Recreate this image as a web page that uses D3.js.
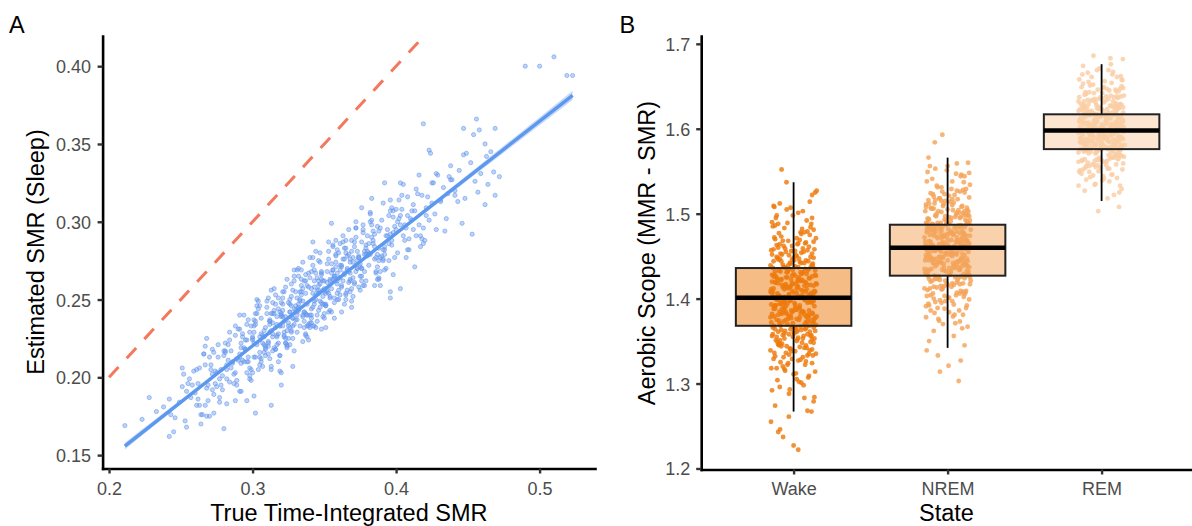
<!DOCTYPE html>
<html><head><meta charset="utf-8">
<script src="https://cdn.jsdelivr.net/npm/d3@7"></script>
<style>
body{margin:0;background:#fff;}
svg{display:block;font-family:Arial,"Liberation Sans",Helvetica,sans-serif;}
</style></head><body>
<svg id="chart" width="1192" height="526"></svg>
<script>
// ================= DATA =================
// Panel A: [true time-integrated SMR, estimated SMR (sleep)]
const smrPoints = [
[0.211,0.169],[0.223,0.173],[0.228,0.187],[0.242,0.162],[0.242,0.186],[0.245,0.165],[0.243,0.176],[0.246,0.174],[0.253,0.172],[0.254,0.168],[0.254,0.191],[0.260,0.190],[0.252,0.202],[0.259,0.204],[0.261,0.205],[0.251,0.194],[0.258,0.195],[0.262,0.196],[0.265,0.176],[0.267,0.182],[0.264,0.170],[0.268,0.175],[0.270,0.175],[0.273,0.177],[0.280,0.167],[0.277,0.184],[0.282,0.183],[0.263,0.182],[0.269,0.185],[0.272,0.192],[0.275,0.194],[0.268,0.225],[0.267,0.220],[0.266,0.215],[0.270,0.213],[0.296,0.185],[0.302,0.177],[0.313,0.182],[0.288,0.185],[0.291,0.191],[0.301,0.188],[0.320,0.195],[0.313,0.205],[0.319,0.204],[0.320,0.203],[0.328,0.207],[0.314,0.217],[0.263,0.206],[0.268,0.193],[0.256,0.199],[0.249,0.184],[0.233,0.178],[0.238,0.181],
[0.274,0.196],[0.271,0.208],[0.279,0.201],[0.276,0.213],[0.273,0.189],[0.277,0.199],[0.272,0.218],[0.278,0.205],[0.275,0.203],
[0.286,0.209],[0.281,0.217],[0.288,0.203],[0.284,0.224],[0.282,0.199],[0.289,0.212],[0.283,0.221],[0.287,0.196],[0.280,0.214],[0.285,0.206],[0.288,0.227],[0.282,0.208],[0.284,0.229],[0.289,0.198],[0.281,0.216],
[0.297,0.213],[0.292,0.222],[0.299,0.205],[0.291,0.231],[0.295,0.218],[0.298,0.201],[0.293,0.226],[0.290,0.211],[0.296,0.234],[0.294,0.219],[0.299,0.198],[0.292,0.209],[0.297,0.237],[0.295,0.224],[0.291,0.215],[0.298,0.206],[0.293,0.228],[0.294,0.240],[0.296,0.210],
[0.303,0.221],[0.308,0.230],[0.301,0.213],[0.306,0.238],[0.300,0.225],[0.305,0.208],[0.302,0.234],[0.309,0.218],[0.304,0.244],[0.307,0.227],[0.300,0.203],[0.305,0.216],[0.303,0.241],[0.309,0.232],[0.301,0.222],[0.306,0.212],[0.304,0.249],[0.308,0.226],[0.302,0.236],[0.307,0.207],[0.309,0.219],[0.301,0.229],[0.305,0.246],
[0.318,0.228],[0.312,0.237],[0.315,0.219],[0.310,0.245],[0.316,0.232],[0.319,0.214],[0.313,0.241],[0.317,0.226],[0.311,0.251],[0.314,0.235],[0.318,0.210],[0.311,0.223],[0.314,0.248],[0.317,0.239],[0.312,0.229],[0.316,0.218],[0.313,0.256],[0.319,0.233],[0.315,0.243],[0.311,0.215],[0.317,0.227],[0.312,0.236],[0.316,0.253],[0.314,0.241],[0.318,0.222],
[0.325,0.235],[0.329,0.244],[0.322,0.226],[0.327,0.252],[0.321,0.239],[0.326,0.221],[0.320,0.248],[0.328,0.233],[0.323,0.258],[0.326,0.242],[0.329,0.217],[0.324,0.230],[0.321,0.255],[0.327,0.246],[0.322,0.236],[0.328,0.225],[0.324,0.263],[0.320,0.240],[0.326,0.250],[0.323,0.222],[0.329,0.234],[0.321,0.243],[0.327,0.260],[0.325,0.248],[0.322,0.229],[0.328,0.238],[0.324,0.219],
[0.336,0.242],[0.331,0.251],[0.339,0.233],[0.334,0.259],[0.330,0.246],[0.337,0.228],[0.333,0.255],[0.338,0.240],[0.332,0.265],[0.335,0.249],[0.339,0.224],[0.331,0.237],[0.337,0.262],[0.334,0.253],[0.330,0.243],[0.336,0.232],[0.332,0.270],[0.338,0.247],[0.335,0.257],[0.331,0.229],[0.337,0.241],[0.333,0.250],[0.339,0.267],[0.334,0.255],[0.336,0.236],[0.332,0.245],[0.338,0.226],[0.335,0.274],
[0.347,0.249],[0.343,0.258],[0.340,0.240],[0.348,0.266],[0.344,0.253],[0.341,0.235],[0.346,0.262],[0.349,0.247],[0.342,0.272],[0.345,0.256],[0.348,0.231],[0.341,0.244],[0.343,0.269],[0.347,0.260],[0.344,0.250],[0.349,0.239],[0.342,0.277],[0.346,0.254],[0.340,0.264],[0.345,0.236],[0.348,0.248],[0.341,0.257],[0.347,0.274],[0.343,0.262],[0.346,0.243],[0.349,0.252],[0.342,0.233],[0.344,0.281],[0.342,0.287],
[0.352,0.256],[0.357,0.265],[0.350,0.247],[0.355,0.273],[0.359,0.260],[0.353,0.242],[0.356,0.269],[0.351,0.254],[0.358,0.279],[0.354,0.263],[0.350,0.238],[0.357,0.251],[0.353,0.276],[0.359,0.267],[0.355,0.257],[0.351,0.246],[0.356,0.284],[0.352,0.261],[0.358,0.271],[0.354,0.243],[0.350,0.255],[0.357,0.264],[0.353,0.281],[0.356,0.269],[0.359,0.250],[0.351,0.232],[0.358,0.288],[0.355,0.299],
[0.368,0.263],[0.362,0.272],[0.365,0.254],[0.360,0.280],[0.364,0.267],[0.369,0.249],[0.363,0.276],[0.367,0.261],[0.361,0.286],[0.366,0.270],[0.369,0.245],[0.362,0.258],[0.364,0.283],[0.368,0.274],[0.361,0.264],[0.365,0.253],[0.363,0.291],[0.367,0.268],[0.366,0.278],[0.360,0.250],[0.368,0.262],[0.362,0.271],[0.365,0.288],[0.364,0.276],[0.369,0.257],
[0.373,0.270],[0.378,0.279],[0.371,0.261],[0.376,0.287],[0.370,0.274],[0.375,0.256],[0.379,0.283],[0.372,0.268],[0.377,0.293],[0.374,0.277],[0.370,0.252],[0.376,0.265],[0.372,0.290],[0.378,0.281],[0.375,0.271],[0.371,0.260],[0.377,0.298],[0.373,0.275],[0.379,0.285],[0.374,0.258],[0.376,0.270],[0.376,0.309],[0.372,0.296],
[0.386,0.277],[0.381,0.286],[0.389,0.268],[0.384,0.294],[0.380,0.281],[0.387,0.263],[0.383,0.290],[0.388,0.275],[0.382,0.300],[0.385,0.284],[0.389,0.259],[0.381,0.272],[0.387,0.297],[0.384,0.288],[0.380,0.278],[0.386,0.267],[0.382,0.305],[0.388,0.283],[0.385,0.292],[0.383,0.315],[0.388,0.263],
[0.392,0.284],[0.398,0.293],[0.395,0.275],[0.390,0.301],[0.397,0.288],[0.393,0.270],[0.399,0.297],[0.391,0.282],[0.396,0.307],[0.394,0.291],[0.398,0.266],[0.392,0.279],[0.395,0.304],[0.392,0.325],[0.397,0.285],[0.396,0.255],[0.391,0.312],[0.396,0.251],
[0.405,0.291],[0.401,0.300],[0.408,0.282],[0.404,0.308],[0.400,0.295],[0.407,0.277],[0.403,0.304],[0.409,0.289],[0.402,0.314],[0.406,0.298],[0.403,0.325],[0.403,0.257],[0.408,0.316],
[0.416,0.298],[0.411,0.307],[0.418,0.289],[0.413,0.271],[0.410,0.302],[0.417,0.284],[0.412,0.311],[0.419,0.296],[0.414,0.321],[0.415,0.318],[0.419,0.363],[0.420,0.288],
[0.423,0.346],[0.424,0.344],[0.427,0.305],[0.422,0.316],[0.428,0.295],[0.425,0.325],[0.421,0.309],[0.429,0.330],
[0.435,0.302],[0.431,0.313],[0.433,0.322],[0.438,0.336],[0.436,0.318],[0.439,0.327],
[0.446,0.299],[0.447,0.360],[0.449,0.344],[0.441,0.320],[0.444,0.333],[0.448,0.315],
[0.453,0.292],[0.456,0.366],[0.458,0.359],[0.452,0.338],[0.455,0.326],[0.459,0.331],
[0.462,0.350],[0.462,0.311],[0.466,0.345],[0.469,0.360],[0.468,0.332],[0.469,0.317],[0.464,0.324],
[0.472,0.329],[0.490,0.400],[0.500,0.400],[0.510,0.406],[0.519,0.394],[0.523,0.394],
[0.255,0.196],[0.257,0.187],[0.251,0.206],
[0.262,0.186],[0.266,0.215],[0.269,0.195],[0.264,0.176],[0.267,0.208],[0.261,0.182],
[0.272,0.202],[0.276,0.221],[0.279,0.192],[0.271,0.205],[0.274,0.204],[0.278,0.195],[0.273,0.216],[0.277,0.187],
[0.283,0.211],[0.287,0.202],[0.281,0.222],[0.289,0.195],[0.285,0.217],[0.282,0.205],[0.288,0.233],[0.284,0.197],[0.286,0.210],[0.280,0.217],
[0.294,0.210],[0.291,0.240],[0.298,0.199],[0.292,0.219],[0.296,0.203],[0.299,0.233],[0.293,0.211],[0.290,0.231],[0.297,0.210],[0.295,0.218],[0.292,0.191],[0.298,0.229],[0.291,0.213],[0.296,0.224],
[0.305,0.213],[0.301,0.237],[0.308,0.221],[0.303,0.246],[0.306,0.210],[0.300,0.224],[0.309,0.220],[0.302,0.241],[0.307,0.222],[0.304,0.205],[0.301,0.233],[0.308,0.216],[0.305,0.226],[0.303,0.250],[0.309,0.214],[0.300,0.226],[0.306,0.228],[0.302,0.213],
[0.316,0.247],[0.312,0.212],[0.319,0.242],[0.314,0.228],[0.310,0.249],[0.317,0.221],[0.313,0.230],[0.318,0.244],[0.311,0.222],[0.315,0.257],[0.319,0.214],[0.312,0.234],[0.316,0.218],[0.310,0.241],[0.314,0.226],[0.318,0.251],[0.311,0.220],[0.317,0.234],[0.313,0.207],[0.315,0.241],[0.319,0.233],[0.312,0.236],
[0.327,0.229],[0.321,0.251],[0.325,0.233],[0.329,0.265],[0.323,0.222],[0.320,0.239],[0.326,0.232],[0.322,0.255],[0.328,0.238],[0.324,0.220],[0.321,0.247],[0.327,0.230],[0.323,0.239],[0.329,0.269],[0.325,0.225],[0.320,0.241],[0.326,0.242],[0.322,0.227],[0.328,0.256],[0.324,0.221],[0.326,0.247],[0.321,0.233],[0.329,0.262],[0.323,0.225],
[0.332,0.243],[0.338,0.259],[0.335,0.240],[0.331,0.269],[0.337,0.227],[0.333,0.249],[0.339,0.234],[0.330,0.255],[0.336,0.242],[0.334,0.263],[0.338,0.240],[0.332,0.244],[0.335,0.223],[0.339,0.258],[0.331,0.242],[0.337,0.254],[0.333,0.233],[0.336,0.262],[0.330,0.237],[0.334,0.269],[0.338,0.233],[0.332,0.247],[0.335,0.239],[0.337,0.266],[0.331,0.240],
[0.343,0.233],[0.348,0.267],[0.341,0.240],[0.346,0.256],[0.340,0.277],[0.345,0.240],[0.349,0.262],[0.342,0.254],[0.347,0.245],[0.344,0.267],[0.340,0.232],[0.348,0.263],[0.343,0.249],[0.346,0.275],[0.341,0.238],[0.349,0.256],[0.345,0.264],[0.342,0.245],[0.347,0.280],[0.344,0.232],[0.346,0.259],[0.340,0.235],[0.348,0.268],[0.343,0.247],[0.341,0.268],
[0.354,0.251],[0.350,0.257],[0.357,0.238],[0.352,0.268],[0.359,0.262],[0.355,0.267],[0.351,0.246],[0.358,0.278],[0.353,0.254],[0.356,0.285],[0.350,0.241],[0.357,0.265],[0.354,0.252],[0.359,0.282],[0.352,0.255],[0.355,0.242],[0.358,0.274],[0.351,0.247],[0.356,0.263],[0.353,0.287],[0.357,0.248],[0.350,0.262],[0.354,0.262],[0.359,0.254],[0.352,0.273],
[0.365,0.250],[0.361,0.272],[0.368,0.267],[0.363,0.287],[0.366,0.256],[0.360,0.264],[0.369,0.281],[0.362,0.259],[0.367,0.295],[0.364,0.247],[0.361,0.269],[0.368,0.255],[0.365,0.280],[0.363,0.262],[0.369,0.288],[0.360,0.256],[0.366,0.269],[0.362,0.242],[0.367,0.279],[0.364,0.266],[0.368,0.276],[0.361,0.253],[0.365,0.283],
[0.376,0.270],[0.372,0.296],[0.379,0.262],[0.374,0.278],[0.370,0.264],[0.377,0.295],[0.373,0.270],[0.378,0.259],[0.371,0.284],[0.375,0.265],[0.379,0.279],[0.372,0.300],[0.376,0.262],[0.370,0.277],[0.374,0.277],[0.378,0.268],[0.371,0.287],[0.377,0.259],[0.373,0.281],[0.375,0.273],
[0.383,0.301],[0.387,0.271],[0.381,0.279],[0.389,0.296],[0.385,0.276],[0.382,0.306],[0.388,0.264],[0.384,0.286],[0.386,0.268],[0.380,0.291],[0.387,0.279],[0.383,0.298],[0.389,0.277],[0.381,0.280],[0.385,0.259],[0.388,0.294],[0.382,0.279],
[0.394,0.295],[0.391,0.275],[0.398,0.307],[0.392,0.282],[0.396,0.314],[0.399,0.277],[0.393,0.291],[0.390,0.278],[0.397,0.309],[0.395,0.286],[0.392,0.269],[0.398,0.303],[0.391,0.276],[0.396,0.292],
[0.405,0.324],[0.401,0.280],[0.408,0.304],[0.403,0.298],[0.406,0.288],[0.400,0.308],[0.409,0.282],[0.402,0.302],[0.407,0.296],[0.404,0.317],
[0.414,0.291],[0.411,0.301],[0.418,0.317],[0.412,0.295],[0.416,0.330],[0.419,0.286],[0.413,0.307],[0.417,0.291],
[0.426,0.325],[0.421,0.304],[0.428,0.331],[0.423,0.301],[0.425,0.312],
[0.434,0.294],[0.437,0.329],[0.431,0.314],[0.438,0.327],
[0.443,0.313],[0.447,0.343],[0.441,0.317],
[0.454,0.356],[0.457,0.319],[0.463,0.342]
];
// Linear fit: x, fitted y, half-width of the confidence band
const fitX = [0.211, 0.345, 0.523];
const fitY = [0.1558, 0.2528, 0.3812];
const fitHalfWidth = [0.0022, 0.0007, 0.0030];
// identity line (y = x)
const identityX = [0.2, 0.45];
const xTicksA = [0.2, 0.3, 0.4, 0.5];
const yTicksA = [0.15, 0.20, 0.25, 0.30, 0.35, 0.40];

// Panel B
const states = ["Wake", "NREM", "REM"];
const boxQ1 = [1.368, 1.427, 1.576];
const boxMedian = [1.401, 1.460, 1.598];
const boxQ3 = [1.436, 1.487, 1.617];
const whiskerLow = [1.267, 1.342, 1.515];
const whiskerHigh = [1.537, 1.566, 1.676];
const yTicksB = [1.2, 1.3, 1.4, 1.5, 1.6, 1.7];
// jittered points: [horizontal jitter (category units), aerobic scope]
const wakePoints = [
[-0.10,1.243],[-0.147,1.255],[-0.088,1.246],[-0.068,1.237],[0.00,1.227],[0.03,1.222],
[0.116,1.267],[0.09,1.268],[-0.031,1.261],
[-0.12,1.274],[0.07,1.283],[-0.03,1.288],[0.13,1.279],
[-0.09,1.296],[0.02,1.305],[0.10,1.309],[-0.14,1.292],[0.05,1.301],
[-0.06,1.317],[0.12,1.324],[-0.01,1.329],[-0.11,1.318],[0.08,1.326],[0.00,1.311],[-0.07,1.320],[0.14,1.314],[-0.04,1.322],[0.03,1.327],[-0.13,1.329],
[0.09,1.333],[-0.08,1.344],[0.11,1.349],[0.01,1.338],[-0.10,1.346],[0.06,1.331],[-0.02,1.341],[0.13,1.348],[-0.05,1.336],[0.04,1.343],[-0.15,1.339],[0.10,1.335],[-0.09,1.347],[0.07,1.342],[-0.12,1.332],[0.02,1.350],[0.12,1.340],[-0.03,1.334],[0.08,1.345],
[-0.06,1.353],[-0.12,1.364],[0.07,1.369],[-0.03,1.358],[0.13,1.366],[-0.09,1.351],[0.02,1.361],[0.10,1.368],[-0.14,1.356],[0.05,1.363],[-0.06,1.359],[0.12,1.352],[-0.01,1.367],[-0.11,1.355],[0.08,1.365],[0.00,1.360],[-0.07,1.357],[0.14,1.362],[-0.04,1.370],[0.03,1.354],[-0.13,1.368],[0.09,1.358],[-0.08,1.363],[0.11,1.356],[0.01,1.366],[-0.10,1.361],[0.06,1.353],[-0.02,1.364],
[0.13,1.373],[-0.05,1.384],[0.04,1.389],[-0.15,1.378],[0.10,1.386],[-0.09,1.371],[0.07,1.381],[-0.12,1.388],[0.02,1.376],[0.12,1.383],[-0.03,1.379],[0.08,1.372],[-0.06,1.387],[-0.11,1.375],[0.06,1.385],[-0.02,1.380],[0.14,1.377],[-0.08,1.382],[0.01,1.390],[0.11,1.374],[-0.13,1.388],[0.04,1.378],[-0.07,1.383],[0.13,1.376],[0.00,1.386],[-0.10,1.381],[0.09,1.373],[-0.01,1.384],[-0.06,1.389],[0.15,1.379],[-0.05,1.375],[0.02,1.387],[-0.14,1.382],[0.08,1.371],[-0.09,1.385],[0.10,1.380],
[0.01,1.393],[-0.10,1.404],[0.06,1.409],[-0.02,1.398],[0.13,1.406],[-0.05,1.391],[0.04,1.401],[-0.15,1.408],[0.10,1.396],[-0.09,1.403],[0.07,1.399],[-0.12,1.392],[0.02,1.407],[0.12,1.395],[-0.03,1.405],[0.08,1.400],[-0.06,1.397],[-0.13,1.402],[0.05,1.410],[-0.04,1.394],[0.14,1.408],[-0.08,1.398],[0.03,1.403],[0.11,1.396],[-0.14,1.406],[0.06,1.401],[-0.07,1.393],[0.11,1.404],[-0.01,1.409],[-0.11,1.399],[0.09,1.395],[0.00,1.407],[-0.06,1.402],[0.13,1.397],[-0.03,1.405],[0.04,1.392],[-0.12,1.400],[0.08,1.408],[-0.09,1.394],[0.12,1.403],
[0.03,1.413],[-0.11,1.424],[0.05,1.429],[-0.01,1.418],[0.12,1.426],[-0.06,1.411],[0.05,1.421],[-0.14,1.428],[0.09,1.416],[-0.08,1.423],[0.08,1.419],[-0.13,1.412],[0.01,1.427],[0.13,1.415],[-0.04,1.425],[0.07,1.420],[-0.05,1.417],[-0.10,1.422],[0.06,1.430],[-0.02,1.414],[0.14,1.428],[-0.10,1.418],[0.03,1.423],[0.11,1.416],[-0.13,1.426],[0.04,1.421],[-0.07,1.413],[0.10,1.424],[0.00,1.429],[-0.12,1.419],[0.07,1.415],[-0.01,1.427],[-0.08,1.422],[0.15,1.417],[-0.05,1.425],[0.02,1.412],[-0.14,1.420],
[0.09,1.433],[-0.08,1.444],[0.11,1.449],[0.01,1.438],[-0.10,1.446],[0.06,1.431],[-0.02,1.441],[0.13,1.448],[-0.05,1.436],[0.04,1.443],[-0.15,1.439],[0.10,1.435],[-0.09,1.447],[0.07,1.442],[-0.12,1.432],[0.02,1.450],[0.12,1.440],[-0.03,1.434],[0.08,1.445],[-0.06,1.437],[-0.11,1.449],[0.05,1.442],[-0.01,1.446],[0.14,1.433],[-0.07,1.440],[0.03,1.437],[-0.13,1.444],[0.00,1.448],[-0.04,1.431],
[0.12,1.453],[-0.09,1.464],[0.04,1.469],[-0.13,1.458],[0.08,1.466],[-0.03,1.451],[0.10,1.461],[-0.07,1.468],[0.01,1.456],[-0.11,1.463],[0.06,1.459],[-0.14,1.452],[0.13,1.467],[-0.05,1.455],[0.03,1.465],[-0.10,1.460],[0.09,1.457],[-0.01,1.462],[-0.12,1.470],[0.05,1.454],
[-0.08,1.473],[0.11,1.484],[-0.04,1.489],[0.07,1.478],[-0.12,1.486],[0.02,1.471],[0.13,1.481],[-0.10,1.488],[0.05,1.476],[-0.06,1.483],[0.09,1.479],[-0.14,1.490],
[-0.11,1.498],[0.06,1.503],[-0.02,1.507],[0.12,1.495],[-0.13,1.509],[0.03,1.501],
[0.14,1.525],[0.12,1.522],[-0.09,1.512],[0.15,1.527],[-0.078,1.552],[-0.046,1.537],
[0.135,1.284],[-0.025,1.293],[0.065,1.298],
[-0.105,1.304],[0.015,1.312],[-0.145,1.318],[0.095,1.307],[-0.055,1.315],[0.035,1.302],
[-0.085,1.325],[0.125,1.333],[-0.015,1.338],[0.075,1.322],[-0.125,1.336],[0.045,1.328],[-0.065,1.331],[0.105,1.339],[-0.035,1.324],[0.145,1.335],
[-0.095,1.345],[0.025,1.352],[-0.135,1.358],[0.085,1.342],[-0.005,1.355],[0.055,1.348],[-0.115,1.351],[0.115,1.357],[-0.045,1.344],[0.005,1.359],[-0.075,1.347],[0.135,1.353],[-0.025,1.341],[0.065,1.356],[-0.105,1.349],
[0.015,1.365],[-0.145,1.372],[0.095,1.378],[-0.055,1.362],[0.035,1.375],[-0.085,1.368],[0.125,1.371],[-0.015,1.377],[0.075,1.364],[-0.125,1.379],[0.045,1.367],[-0.065,1.373],[0.105,1.361],[-0.035,1.376],[0.145,1.369],[-0.095,1.374],[0.025,1.362],[-0.135,1.366],[0.085,1.378],[-0.005,1.371],
[0.055,1.385],[-0.115,1.392],[0.115,1.398],[-0.045,1.382],[0.005,1.395],[-0.075,1.388],[0.135,1.391],[-0.025,1.397],[0.065,1.384],[-0.105,1.399],[0.015,1.387],[-0.145,1.393],[0.095,1.381],[-0.055,1.396],[0.035,1.389],[-0.085,1.394],[0.125,1.382],[-0.015,1.386],[0.075,1.398],[-0.125,1.391],[0.045,1.383],[-0.065,1.395],
[0.105,1.405],[-0.035,1.412],[0.145,1.418],[-0.095,1.402],[0.025,1.415],[-0.135,1.408],[0.085,1.411],[-0.005,1.417],[0.055,1.404],[-0.115,1.419],[0.115,1.407],[-0.045,1.413],[0.005,1.401],[-0.075,1.416],[0.135,1.409],[-0.025,1.414],[0.065,1.402],[-0.105,1.406],[0.015,1.418],[-0.145,1.411],[0.095,1.403],[-0.055,1.415],
[0.035,1.425],[-0.085,1.432],[0.125,1.438],[-0.015,1.422],[0.075,1.435],[-0.125,1.428],[0.045,1.431],[-0.065,1.437],[0.105,1.424],[-0.035,1.439],[0.145,1.427],[-0.095,1.433],[0.025,1.421],[-0.135,1.436],[0.085,1.429],[-0.005,1.434],[0.055,1.422],[-0.115,1.426],[0.115,1.438],[-0.045,1.431],
[0.005,1.445],[-0.075,1.452],[0.135,1.458],[-0.025,1.442],[0.065,1.455],[-0.105,1.448],[0.015,1.451],[-0.145,1.457],[0.095,1.444],[-0.055,1.459],[0.035,1.447],[-0.085,1.453],[0.125,1.441],[-0.015,1.456],
[0.075,1.465],[-0.125,1.472],[0.045,1.478],[-0.065,1.462],[0.105,1.475],[-0.035,1.468],[0.145,1.471],[-0.095,1.477],[0.025,1.464],
[-0.135,1.485],[0.085,1.492],[-0.005,1.498],[0.055,1.482],[-0.115,1.495],[0.115,1.488],
[-0.045,1.505],[-0.125,1.508],[0.105,1.514]
];
const nremPoints = [
[-0.034,1.593],[-0.083,1.584],[-0.124,1.566],[0.133,1.560],[0.072,1.303],[-0.050,1.314],[0.006,1.321],[0.085,1.327],[-0.063,1.333],[-0.136,1.339],
[0.11,1.345],[-0.12,1.350],
[0.04,1.356],[-0.09,1.362],[0.13,1.367],[-0.03,1.370],
[0.08,1.373],[-0.14,1.378],[0.01,1.384],[0.12,1.389],[-0.06,1.376],[0.10,1.381],[-0.11,1.386],[0.05,1.371],[-0.02,1.388],
[0.04,1.393],[-0.11,1.404],[0.12,1.409],[-0.05,1.398],[0.08,1.406],[-0.14,1.391],[0.01,1.401],[0.10,1.408],[-0.08,1.396],[-0.02,1.403],[0.14,1.399],[-0.12,1.392],[0.06,1.407],[-0.04,1.395],[0.11,1.405],[-0.09,1.400],[0.03,1.397],[-0.13,1.410],
[-0.07,1.413],[0.11,1.424],[-0.13,1.429],[0.03,1.418],[0.09,1.426],[-0.04,1.411],[-0.10,1.421],[0.14,1.428],[0.00,1.416],[-0.08,1.423],[0.06,1.419],[-0.15,1.412],[0.12,1.427],[-0.02,1.415],[0.05,1.425],[-0.11,1.420],[0.08,1.417],[-0.05,1.422],[0.13,1.430],[-0.09,1.414],[0.01,1.428],[0.10,1.418],[-0.12,1.423],[0.04,1.416],[-0.06,1.426],[0.15,1.421],[-0.03,1.413],[0.07,1.424],[-0.14,1.429],
[-0.12,1.433],[0.07,1.444],[-0.03,1.449],[0.13,1.438],[-0.09,1.446],[0.02,1.431],[0.10,1.441],[-0.14,1.448],[0.05,1.436],[-0.06,1.443],[0.12,1.439],[-0.01,1.432],[-0.11,1.447],[0.08,1.435],[0.00,1.445],[-0.07,1.440],[0.14,1.437],[-0.04,1.442],[0.03,1.450],[-0.13,1.434],[0.09,1.448],[-0.08,1.438],[0.11,1.443],[0.01,1.436],[-0.10,1.446],[0.06,1.441],[-0.02,1.433],[0.13,1.444],[-0.05,1.449],[0.04,1.439],[-0.15,1.435],[0.10,1.447],[-0.09,1.442],[0.07,1.437],[-0.12,1.445],[0.02,1.432],[0.12,1.440],[-0.03,1.448],[0.08,1.434],[-0.06,1.443],
[0.04,1.453],[-0.11,1.464],[0.12,1.469],[-0.05,1.458],[0.08,1.466],[-0.14,1.451],[0.01,1.461],[0.10,1.468],[-0.08,1.456],[-0.02,1.463],[0.14,1.459],[-0.12,1.452],[0.06,1.467],[-0.04,1.455],[0.11,1.465],[-0.09,1.460],[0.03,1.457],[-0.13,1.462],[0.09,1.470],[-0.01,1.454],[0.13,1.468],[-0.06,1.458],[0.00,1.463],[-0.10,1.456],[0.07,1.466],[-0.15,1.461],[0.05,1.453],[-0.03,1.464],[0.12,1.469],[-0.07,1.459],[0.02,1.455],[-0.11,1.467],[0.10,1.462],[-0.05,1.457],[0.14,1.465],[-0.08,1.460],[0.06,1.452],[-0.12,1.468],[0.03,1.454],[-0.02,1.466],[0.09,1.458],[-0.14,1.463],[0.11,1.451],
[-0.07,1.473],[0.11,1.484],[-0.13,1.489],[0.03,1.478],[0.09,1.486],[-0.04,1.471],[-0.10,1.481],[0.14,1.488],[0.00,1.476],[-0.08,1.483],[0.06,1.479],[-0.15,1.472],[0.12,1.487],[-0.02,1.475],[0.05,1.485],[-0.11,1.480],[0.08,1.477],[-0.05,1.482],[0.13,1.490],[-0.09,1.474],[0.01,1.488],[0.10,1.478],[-0.12,1.483],[0.04,1.476],[-0.06,1.486],[0.15,1.481],[-0.03,1.473],[0.07,1.484],[-0.14,1.489],[0.02,1.479],[0.11,1.475],[-0.01,1.487],[-0.09,1.477],[0.09,1.482],[-0.13,1.485],[0.06,1.472],[-0.04,1.480],[0.12,1.474],[-0.10,1.488],
[-0.12,1.493],[0.07,1.504],[-0.03,1.509],[0.13,1.498],[-0.09,1.506],[0.02,1.491],[0.10,1.501],[-0.14,1.508],[0.05,1.496],[-0.06,1.503],[0.12,1.499],[-0.01,1.492],[-0.11,1.507],[0.08,1.495],[0.00,1.505],[-0.07,1.500],[0.14,1.497],[-0.04,1.502],[0.03,1.510],[-0.13,1.494],[0.09,1.508],[-0.08,1.498],[0.11,1.503],[0.01,1.496],[-0.10,1.506],[0.06,1.501],[-0.02,1.493],[0.13,1.504],
[0.04,1.513],[-0.11,1.524],[0.12,1.529],[-0.05,1.518],[0.08,1.526],[-0.14,1.511],[0.01,1.521],[0.10,1.528],[-0.08,1.516],[-0.02,1.523],[0.14,1.519],[-0.12,1.512],[0.06,1.527],[-0.04,1.515],[0.11,1.525],[-0.09,1.520],[0.03,1.517],
[-0.07,1.533],[0.11,1.544],[-0.13,1.549],[0.03,1.538],[0.09,1.546],[-0.04,1.531],[-0.10,1.541],[0.14,1.548],
[0.00,1.556],[-0.08,1.553],[0.06,1.559],
[0.095,1.365],[-0.055,1.374],[0.035,1.379],
[-0.085,1.383],[0.125,1.392],[-0.015,1.397],[0.075,1.386],[-0.125,1.394],[0.045,1.381],[-0.065,1.389],
[0.105,1.402],[-0.035,1.411],[0.145,1.417],[-0.095,1.406],[0.025,1.414],[-0.135,1.403],[0.085,1.409],[-0.005,1.418],[0.055,1.404],[-0.115,1.412],[0.115,1.407],[-0.045,1.415],[0.005,1.401],
[-0.075,1.424],[0.135,1.432],[-0.025,1.437],[0.065,1.422],[-0.105,1.435],[0.015,1.428],[-0.145,1.431],[0.095,1.438],[-0.055,1.425],[0.035,1.436],[-0.085,1.427],[0.125,1.433],[-0.015,1.421],[0.075,1.434],[-0.125,1.426],[0.045,1.439],[-0.065,1.423],[0.105,1.429],[-0.035,1.434],[0.145,1.425],
[-0.095,1.442],[0.025,1.451],[-0.135,1.457],[0.085,1.446],[-0.005,1.454],[0.055,1.443],[-0.115,1.449],[0.115,1.458],[-0.045,1.444],[0.005,1.452],[-0.075,1.447],[0.135,1.455],[-0.025,1.441],[0.065,1.456],[-0.105,1.448],[0.015,1.459],[-0.145,1.445],[0.095,1.453],[-0.055,1.449],[0.035,1.442],[-0.085,1.457],[0.125,1.447],[-0.015,1.452],[0.075,1.444],[-0.125,1.455],
[0.045,1.462],[-0.065,1.471],[0.105,1.477],[-0.035,1.466],[0.145,1.474],[-0.095,1.463],[0.025,1.469],[-0.135,1.478],[0.085,1.464],[-0.005,1.472],[0.055,1.467],[-0.115,1.475],[0.115,1.461],[-0.045,1.476],[0.005,1.468],[-0.075,1.479],[0.135,1.465],[-0.025,1.473],[0.065,1.469],[-0.105,1.462],[0.015,1.477],[-0.145,1.467],[0.095,1.472],[-0.055,1.464],[0.035,1.475],
[-0.085,1.482],[0.125,1.491],[-0.015,1.497],[0.075,1.486],[-0.125,1.494],[0.045,1.483],[-0.065,1.489],[0.105,1.498],[-0.035,1.484],[0.145,1.492],[-0.095,1.487],[0.025,1.495],[-0.135,1.481],[0.085,1.496],[-0.005,1.488],[0.055,1.499],[-0.115,1.485],[0.115,1.493],[-0.045,1.489],[0.005,1.482],[-0.075,1.497],
[0.135,1.502],[-0.025,1.511],[0.065,1.517],[-0.105,1.506],[0.015,1.514],[-0.145,1.503],[0.095,1.509],[-0.055,1.518],[0.035,1.504],[-0.085,1.512],[0.125,1.507],[-0.015,1.515],[0.075,1.501],[-0.125,1.516],
[0.045,1.522],[-0.065,1.531],[0.105,1.537],[-0.035,1.526],[0.145,1.534],[-0.095,1.523],[0.025,1.529],[-0.135,1.538],
[0.085,1.544],[-0.005,1.551],[0.055,1.547],[-0.115,1.556]
];
const remPoints = [
[-0.053,1.686],[0.057,1.683],[0.138,1.682],[-0.022,1.503],[0.113,1.508],[0.039,1.518],[-0.150,1.533],
[0.08,1.522],[-0.11,1.527],[0.13,1.529],
[-0.04,1.535],[0.10,1.542],[-0.13,1.547],[0.05,1.538],[-0.08,1.549],[0.12,1.533],[0.01,1.544],[-0.10,1.540],[0.07,1.546],[-0.02,1.550],
[0.04,1.553],[-0.11,1.564],[0.12,1.569],[-0.05,1.558],[0.08,1.566],[-0.14,1.551],[0.01,1.561],[0.10,1.568],[-0.08,1.556],[-0.02,1.563],[0.14,1.559],[-0.12,1.552],[0.06,1.567],[-0.04,1.555],[0.11,1.565],[-0.09,1.560],[0.03,1.557],[-0.13,1.562],[0.09,1.570],[-0.01,1.554],[0.13,1.568],[-0.06,1.558],[0.00,1.563],[-0.10,1.556],[0.07,1.566],[-0.15,1.561],[0.05,1.553],[-0.03,1.564],
[-0.07,1.573],[0.11,1.584],[-0.13,1.589],[0.03,1.578],[0.09,1.586],[-0.04,1.571],[-0.10,1.581],[0.14,1.588],[0.00,1.576],[-0.08,1.583],[0.06,1.579],[-0.15,1.572],[0.12,1.587],[-0.02,1.575],[0.05,1.585],[-0.11,1.580],[0.08,1.577],[-0.05,1.582],[0.13,1.590],[-0.09,1.574],[0.01,1.588],[0.10,1.578],[-0.12,1.583],[0.04,1.576],[-0.06,1.586],[0.15,1.581],[-0.03,1.573],[0.07,1.584],[-0.14,1.589],[0.02,1.579],[0.11,1.575],[-0.01,1.587],[-0.09,1.577],[0.09,1.582],[-0.13,1.585],[0.06,1.572],[-0.04,1.580],[0.12,1.574],[-0.10,1.588],[0.00,1.583],[0.04,1.590],[-0.07,1.586],[0.13,1.579],[-0.11,1.575],[0.08,1.581],[-0.02,1.589],[0.10,1.571],[-0.14,1.584],[0.05,1.577],
[-0.12,1.593],[0.07,1.604],[-0.03,1.609],[0.13,1.598],[-0.09,1.606],[0.02,1.591],[0.10,1.601],[-0.14,1.608],[0.05,1.596],[-0.06,1.603],[0.12,1.599],[-0.01,1.592],[-0.11,1.607],[0.08,1.595],[0.00,1.605],[-0.07,1.600],[0.14,1.597],[-0.04,1.602],[0.03,1.610],[-0.13,1.594],[0.09,1.608],[-0.08,1.598],[0.11,1.603],[0.01,1.596],[-0.10,1.606],[0.06,1.601],[-0.02,1.593],[0.13,1.604],[-0.05,1.609],[0.04,1.599],[-0.15,1.595],[0.10,1.607],[-0.09,1.602],[0.07,1.597],[-0.12,1.605],[0.02,1.592],[0.12,1.600],[-0.03,1.608],[0.08,1.594],[-0.06,1.603],[0.11,1.591],[-0.13,1.597],[0.04,1.606],[-0.07,1.601],[0.14,1.609],[-0.01,1.595],[0.09,1.603],[-0.11,1.599],[0.06,1.592],[-0.04,1.607],[0.12,1.605],[-0.08,1.594],[0.00,1.598],[-0.14,1.602],[0.03,1.610],[0.10,1.596],
[0.04,1.613],[-0.11,1.624],[0.12,1.629],[-0.05,1.618],[0.08,1.626],[-0.14,1.611],[0.01,1.621],[0.10,1.628],[-0.08,1.616],[-0.02,1.623],[0.14,1.619],[-0.12,1.612],[0.06,1.627],[-0.04,1.615],[0.11,1.625],[-0.09,1.620],[0.03,1.617],[-0.13,1.622],[0.09,1.630],[-0.01,1.614],[0.13,1.628],[-0.06,1.618],[0.00,1.623],[-0.10,1.616],[0.07,1.626],[-0.15,1.621],[0.05,1.613],[-0.03,1.624],[0.12,1.629],[-0.07,1.619],[0.02,1.615],[-0.11,1.627],[0.10,1.622],[-0.05,1.617],[0.14,1.625],[-0.08,1.620],[0.06,1.612],[-0.12,1.628],[0.03,1.614],[-0.02,1.626],[0.09,1.618],[-0.14,1.623],[0.11,1.611],
[-0.07,1.633],[0.11,1.644],[-0.13,1.649],[0.03,1.638],[0.09,1.646],[-0.04,1.631],[-0.10,1.641],[0.14,1.648],[0.00,1.636],[-0.08,1.643],[0.06,1.639],[-0.15,1.632],[0.12,1.647],[-0.02,1.635],[0.05,1.645],[-0.11,1.640],[0.08,1.637],[-0.05,1.642],[0.13,1.650],[-0.09,1.634],[0.01,1.648],[0.10,1.638],
[-0.12,1.653],[0.07,1.664],[-0.03,1.669],[0.13,1.658],[-0.09,1.666],[0.02,1.656],[0.10,1.661],
[-0.12,1.674],[0.06,1.676],
[0.115,1.525],[-0.045,1.534],[0.005,1.539],
[-0.075,1.543],[0.135,1.552],[-0.025,1.557],[0.065,1.546],[-0.105,1.554],[0.015,1.541],[-0.145,1.549],[0.095,1.558],[-0.055,1.545],
[0.035,1.562],[-0.085,1.571],[0.125,1.577],[-0.015,1.566],[0.075,1.574],[-0.125,1.563],[0.045,1.569],[-0.065,1.578],[0.105,1.564],[-0.035,1.572],[0.145,1.567],[-0.095,1.575],[0.025,1.561],[-0.135,1.576],[0.085,1.568],[-0.005,1.579],[0.055,1.565],[-0.115,1.573],[0.115,1.569],[-0.045,1.562],
[0.005,1.582],[-0.075,1.591],[0.135,1.597],[-0.025,1.586],[0.065,1.594],[-0.105,1.583],[0.015,1.589],[-0.145,1.598],[0.095,1.584],[-0.055,1.592],[0.035,1.587],[-0.085,1.595],[0.125,1.581],[-0.015,1.596],[0.075,1.588],[-0.125,1.599],[0.045,1.585],[-0.065,1.593],[0.105,1.589],[-0.035,1.582],[0.145,1.597],[-0.095,1.587],[0.025,1.592],[-0.135,1.584],[0.085,1.595],[-0.005,1.581],[0.055,1.598],[-0.115,1.586],[0.115,1.591],[-0.045,1.589],[0.005,1.594],
[-0.075,1.602],[0.135,1.611],[-0.025,1.617],[0.065,1.606],[-0.105,1.614],[0.015,1.603],[-0.145,1.609],[0.095,1.618],[-0.055,1.604],[0.035,1.612],[-0.085,1.607],[0.125,1.615],[-0.015,1.601],[0.075,1.616],[-0.125,1.608],[0.045,1.619],[-0.065,1.605],[0.105,1.613],[-0.035,1.609],[0.145,1.602],[-0.095,1.617],[0.025,1.607],[-0.135,1.612],[0.085,1.604],[-0.005,1.615],[0.055,1.601],[-0.115,1.618],[0.115,1.606],[-0.045,1.611],[0.005,1.603],[-0.075,1.616],[0.135,1.608],[-0.025,1.613],[0.065,1.619],
[-0.105,1.622],[0.015,1.631],[-0.145,1.637],[0.095,1.626],[-0.055,1.634],[0.035,1.623],[-0.085,1.629],[0.125,1.638],[-0.015,1.624],[0.075,1.632],[-0.125,1.627],[0.045,1.635],[-0.065,1.621],[0.105,1.636],[-0.035,1.628],[0.145,1.639],[-0.095,1.625],[0.025,1.633],[-0.135,1.629],[0.085,1.622],[-0.005,1.637],[0.055,1.627],[-0.115,1.632],[0.115,1.624],[-0.045,1.635],
[0.005,1.642],[-0.075,1.651],[0.135,1.657],[-0.025,1.646],[0.065,1.654],[-0.105,1.643],[0.015,1.649],[-0.145,1.658],[0.095,1.644],[-0.055,1.652],[0.035,1.647],[-0.085,1.655],
[0.125,1.662],[-0.015,1.671],[0.075,1.667],[-0.125,1.664],[0.045,1.669],[-0.065,1.661]
];
const statePoints = [wakePoints, nremPoints, remPoints];
const stateColors = ["#EE7A0C", "#F4A359", "#FACDA3"];

// ================= DRAWING =================
const svg = d3.select("#chart");
const tickColor = "#4d4d4d";
const TICK_FS = 18, TITLE_FS = 23.5;

function styleAxis(g) {
  g.select(".domain").attr("stroke", "#000").attr("stroke-width", 2.6).attr("stroke-linecap", "square");
  g.selectAll(".tick line").attr("stroke", "#333").attr("stroke-width", 2.4);
  g.selectAll(".tick text").attr("fill", tickColor).attr("font-size", TICK_FS)
    .attr("font-family", 'Arial,"Liberation Sans",Helvetica,sans-serif');
}

// ---------- Panel A ----------
const xA = d3.scaleLinear().domain([0.1955, 0.5386]).range([102.6, 595]);
const yA = d3.scaleLinear().domain([0.1414, 0.4194]).range([468.5, 36]);

svg.append("clipPath").attr("id", "clipA").append("rect")
  .attr("x", xA.range()[0]).attr("y", yA.range()[1])
  .attr("width", xA.range()[1] - xA.range()[0]).attr("height", yA.range()[0] - yA.range()[1]);

const gA = svg.append("g").attr("clip-path", "url(#clipA)");

gA.append("g").selectAll("circle").data(smrPoints).join("circle")
  .attr("cx", d => xA(d[0])).attr("cy", d => yA(d[1])).attr("r", 2.1)
  .attr("fill", "#6495ED").attr("fill-opacity", 0.42)
  .attr("stroke", "#6495ED").attr("stroke-opacity", 0.55).attr("stroke-width", 1);

const fitData = fitX.map((x, i) => ({x, y: fitY[i], h: fitHalfWidth[i]}));
gA.append("path").datum(fitData)
  .attr("d", d3.area().curve(d3.curveNatural).x(d => xA(d.x)).y0(d => yA(d.y - d.h)).y1(d => yA(d.y + d.h)))
  .attr("fill", "#6495ED").attr("fill-opacity", 0.35);
gA.append("path").datum(fitData)
  .attr("d", d3.line().x(d => xA(d.x)).y(d => yA(d.y)))
  .attr("fill", "none").attr("stroke", "#5B98EE").attr("stroke-width", 3.4);

gA.append("path").datum(identityX)
  .attr("d", d3.line().x(d => xA(d)).y(d => yA(d)))
  .attr("fill", "none").attr("stroke", "#F4785E").attr("stroke-width", 3)
  .attr("stroke-dasharray", "14,12");

const axXA = svg.append("g").attr("transform", `translate(0,${yA.range()[0]})`)
  .call(d3.axisBottom(xA).tickValues(xTicksA).tickFormat(d3.format(".1f")).tickSize(5).tickSizeOuter(0));
styleAxis(axXA);
axXA.selectAll(".tick text").attr("y", 26).attr("dy", null);

const axYA = svg.append("g").attr("transform", `translate(${xA.range()[0]},0)`)
  .call(d3.axisLeft(yA).tickValues(yTicksA).tickFormat(d3.format(".2f")).tickSize(5).tickSizeOuter(0));
styleAxis(axYA);
axYA.selectAll(".tick text").attr("x", -11.5).attr("dy", "0.36em");

svg.append("text").attr("x", 348.8).attr("y", 520.5).attr("text-anchor", "middle")
  .attr("font-size", TITLE_FS).attr("fill", "#000").text("True Time-Integrated SMR");
svg.append("text").attr("transform", "translate(44,252) rotate(-90)").attr("text-anchor", "middle")
  .attr("font-size", TITLE_FS).attr("fill", "#000").text("Estimated SMR (Sleep)");
svg.append("text").attr("x", 9).attr("y", 33).attr("font-size", 23.5).attr("fill", "#000").text("A");

// ---------- Panel B ----------
const xB = d3.scalePoint().domain(states).range([701.2, 1194]).padding(0.6);
const yB = d3.scaleLinear().domain([1.1988, 1.7092]).range([469.5, 36]);
const step = xB.step();
const boxW = 0.75 * step;

const gB = svg.append("g");
states.forEach((s, i) => {
  gB.append("g").selectAll("circle").data(statePoints[i]).join("circle")
    .attr("cx", d => xB(s) + d[0] * step).attr("cy", d => yB(d[1])).attr("r", 2.45)
    .attr("fill", stateColors[i]).attr("fill-opacity", 0.82);
});
states.forEach((s, i) => {
  const cx = xB(s);
  gB.append("line").attr("x1", cx).attr("x2", cx).attr("y1", yB(boxQ3[i])).attr("y2", yB(whiskerHigh[i]))
    .attr("stroke", "#000").attr("stroke-width", 1.8);
  gB.append("line").attr("x1", cx).attr("x2", cx).attr("y1", yB(boxQ1[i])).attr("y2", yB(whiskerLow[i]))
    .attr("stroke", "#000").attr("stroke-width", 1.8);
  gB.append("rect").attr("x", cx - boxW / 2).attr("width", boxW)
    .attr("y", yB(boxQ3[i])).attr("height", yB(boxQ1[i]) - yB(boxQ3[i]))
    .attr("fill", stateColors[i]).attr("fill-opacity", 0.5)
    .attr("stroke", "#222").attr("stroke-width", 2);
  gB.append("line").attr("x1", cx - boxW / 2).attr("x2", cx + boxW / 2)
    .attr("y1", yB(boxMedian[i])).attr("y2", yB(boxMedian[i]))
    .attr("stroke", "#000").attr("stroke-width", 4.5);
});

const axXB = svg.append("g").attr("transform", `translate(0,${yB.range()[0]})`)
  .call(d3.axisBottom(xB).tickSize(5).tickSizeOuter(0));
styleAxis(axXB);
axXB.selectAll(".tick text").attr("y", 25.5).attr("dy", null);

const axYB = svg.append("g").attr("transform", `translate(${xB.range()[0]},0)`)
  .call(d3.axisLeft(yB).tickValues(yTicksB).tickFormat(d3.format(".1f")).tickSize(5).tickSizeOuter(0));
styleAxis(axYB);
axYB.selectAll(".tick text").attr("x", -11).attr("dy", "0.36em");

svg.append("text").attr("x", 946.5).attr("y", 520.5).attr("text-anchor", "middle")
  .attr("font-size", TITLE_FS).attr("fill", "#000").text("State");
svg.append("text").attr("transform", "translate(655,253) rotate(-90)").attr("text-anchor", "middle")
  .attr("font-size", TITLE_FS).attr("fill", "#000").text("Aerobic Scope (MMR - SMR)");
svg.append("text").attr("x", 619.5).attr("y", 33).attr("font-size", 23.5).attr("fill", "#000").text("B");
</script>
</body></html>
